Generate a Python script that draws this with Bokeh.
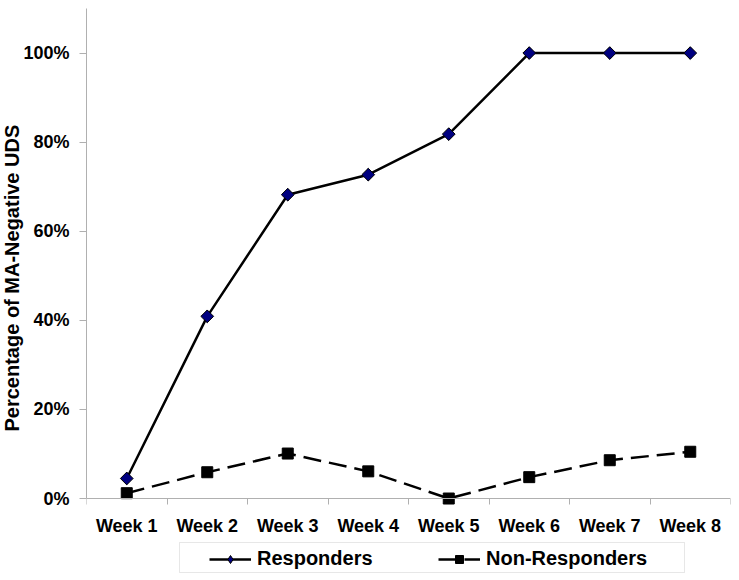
from bokeh.plotting import figure
from bokeh.models import (FixedTicker, NumeralTickFormatter, Legend, LegendItem, Range1d,
                          Title, BoxAnnotation)
from bokeh.embed import file_html
from bokeh.resources import INLINE
import math

weeks = ["Week 1", "Week 2", "Week 3", "Week 4", "Week 5", "Week 6", "Week 7", "Week 8"]
responders = [0.045, 0.409, 0.682, 0.727, 0.818, 1.0, 1.0, 1.0]
non_responders = [0.012, 0.059, 0.101, 0.061, 0.0, 0.048, 0.086, 0.105]
y_ticks = [0.0, 0.2, 0.4, 0.6, 0.8, 1.0]

x_pos = [i + 0.5 for i in range(len(weeks))]
FONT = "Liberation Sans"
AXIS_GRAY = "#b0b0b0"
NAVY = "#000080"

p = figure(width=739, height=580, output_backend="svg", toolbar_location=None,
           x_range=Range1d(0, len(weeks)), y_range=Range1d(-0.184, 1.1),
           min_border_left=85, min_border_right=9, min_border_top=8, min_border_bottom=0)
p.outline_line_color = None
p.xgrid.visible = False
p.ygrid.visible = False

r_line = p.line(x_pos, responders, line_color="black", line_width=2.5)
# diamond swatch for the legend; drawn underneath (and hidden by) the plot's markers
r_key = p.scatter(x_pos, responders, marker="diamond", size=12,
                  fill_color=NAVY, line_color="black", line_width=1)
r_mark = p.scatter(x_pos, responders, marker="square", angle=math.pi / 4, size=9,
                   fill_color=NAVY, line_color="black", line_width=1)
n_line = p.line(x_pos, non_responders, line_color="black", line_width=2.5, line_dash="18 8")
n_mark = p.scatter(x_pos, non_responders, marker="square", size=11,
                   fill_color="black", line_color="black")

# x axis sits at 0%: ticks at category boundaries, labels at centers
xa = p.xaxis[0]
xa.fixed_location = 0
xa.ticker = FixedTicker(ticks=x_pos, minor_ticks=list(range(len(weeks) + 1)))
xa.major_label_overrides = {x: w for x, w in zip(x_pos, weeks)}
xa.major_tick_out = 0
xa.major_tick_in = 0
xa.minor_tick_out = 6
xa.minor_tick_in = 0
xa.axis_line_color = AXIS_GRAY
xa.minor_tick_line_color = AXIS_GRAY
xa.major_label_text_font = FONT
xa.major_label_text_font_style = "bold"
xa.major_label_text_font_size = "18px"
xa.major_label_text_color = "black"
xa.major_label_standoff = 11

ya = p.yaxis[0]
ya.bounds = (0, 1.1)
ya.ticker = FixedTicker(ticks=y_ticks, minor_ticks=[])
ya.formatter = NumeralTickFormatter(format="0%")
ya.major_tick_out = 7
ya.major_tick_in = 0
ya.axis_line_color = AXIS_GRAY
ya.major_tick_line_color = AXIS_GRAY
ya.major_label_text_font = FONT
ya.major_label_text_font_style = "bold"
ya.major_label_text_font_size = "18px"
ya.major_label_text_color = "black"
ya.major_label_standoff = 10

ytitle = Title(text="Percentage of MA-Negative UDS", align="left", offset=149,
               text_font=FONT, text_font_style="bold", text_font_size="20px",
               text_color="black", standoff=-4)
p.add_layout(ytitle, "left")

# legend frame (screen units relative to the plot frame)
p.add_layout(BoxAnnotation(left=93, right=598, top=38, bottom=8,
                           left_units="screen", right_units="screen",
                           top_units="screen", bottom_units="screen",
                           fill_color="white", fill_alpha=1.0,
                           line_color=AXIS_GRAY, line_width=1, level="underlay"))

legend = Legend(items=[
    LegendItem(label="Responders", renderers=[r_line, r_key]),
    LegendItem(label="Non-Responders", renderers=[n_line, n_mark]),
], orientation="horizontal", location=(123, 10))
legend.glyph_width = 42
legend.glyph_height = 20
legend.label_standoff = 6
legend.label_width = 175
legend.spacing = 6
legend.padding = 4
legend.margin = 0
legend.label_text_font = FONT
legend.label_text_font_style = "bold"
legend.label_text_font_size = "20px"
legend.label_text_color = "black"
legend.border_line_color = None
legend.background_fill_alpha = 0
p.add_layout(legend, "center")

open("out.html", "w").write(file_html(p, INLINE))
